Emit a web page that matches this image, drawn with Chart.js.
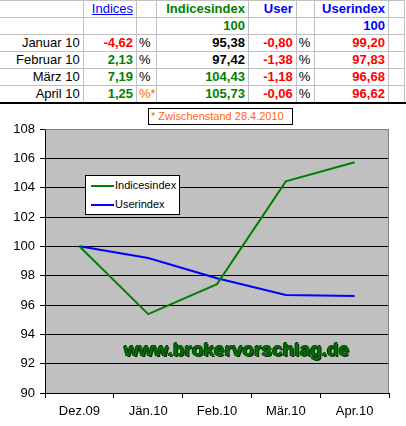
<!DOCTYPE html>
<html>
<head>
<meta charset="utf-8">
<script src="https://cdn.jsdelivr.net/npm/chart.js@4"></script>
<style>
  body { margin: 0; background: #fff; font-family: Arial, "Liberation Sans", sans-serif; }
  #page { position: relative; width: 406px; height: 426px; overflow: hidden; }
  #tbl { position: absolute; left: -1px; top: 0; border-collapse: collapse; table-layout: fixed; font-size: 13px; }
  #tbl td { border: 1px solid #c0c0c0; height: 16px; line-height: 16px; padding: 0 3px 0 0; text-align: right; white-space: nowrap; overflow: hidden; }
  #tbl td.pc { text-align: left; padding: 0 0 0 2px; }
  #tbl b { font-weight: bold; }
  #bottomline { position: absolute; left: 0; top: 102px; width: 406px; height: 2px; background: #000; }
  #chartbox { position: absolute; left: 0; top: 104px; width: 406px; height: 322px; }
  #note { position: absolute; left: 148px; top: 108px; width: 141px; height: 15px; border: 1px solid #000; background: #fff;
          color: #ff6600; font-size: 11px; line-height: 15px; padding-left: 2px; white-space: nowrap; }
  #legend { position: absolute; left: 85px; top: 175px; width: 93px; height: 38px; border: 1px solid #000; background: #fff; font-size: 11px; }
  #legend div { position: relative; height: 19px; line-height: 19px; padding-left: 29px; }
  #legend span { position: absolute; left: 5px; top: 9px; width: 23px; height: 2px; }
  #wm { position: absolute; left: 124px; top: 340px; font-size: 19px; line-height: 19px; font-weight: bold; color: #007000;
        text-shadow: 1px 1px 0 #002800, -1px 0 0 #003a00, 0 -1px 0 #003a00; white-space: nowrap; }
</style>
</head>
<body>
<div id="page">
  <table id="tbl"></table>
  <div id="bottomline"></div>
  <div id="chartbox"><canvas id="myChart" width="406" height="322"></canvas></div>
  <div id="note">* Zwischenstand 28.4.2010</div>
  <div id="legend"></div>
  <div id="wm">www.brokervorschlag.de</div>
</div>
<script>
// daten //
const months = ['Dez.09', 'Jän.10', 'Feb.10', 'Mär.10', 'Apr.10'];
const rowLabels = ['Januar 10', 'Februar 10', 'März 10', 'April 10'];
const indicesPct = [-4.62, 2.13, 7.19, 1.25];
const userPct = [-0.80, -1.38, -1.18, -0.06];
const indicesindex = [100, 95.38, 97.42, 104.43, 105.73];
const userindex = [100, 99.20, 97.83, 96.68, 96.62];
const yTicks = [90, 92, 94, 96, 98, 100, 102, 104, 106, 108];

const green = '#008000';
const blue = '#0000ff';
const red = '#ff0000';

// tabelle //
const fmt = v => v.toFixed(2).replace('.', ',');
const widths = [85, 54, 17, 93, 49, 19, 74, 17];
let html = '<colgroup>' + widths.map(w => '<col style="width:' + w + 'px">').join('') + '</colgroup>';
html += '<tr><td></td><td><u style="color:' + blue + '">Indices</u></td><td></td>' +
  '<td><b style="color:' + green + '">Indicesindex</b></td><td><b style="color:' + blue + '">User</b></td><td></td>' +
  '<td><b style="color:' + blue + '">Userindex</b></td><td></td></tr>';
html += '<tr><td></td><td></td><td></td><td><b style="color:' + green + '">' + indicesindex[0] + '</b></td><td></td><td></td>' +
  '<td><b style="color:' + blue + '">' + userindex[0] + '</b></td><td></td></tr>';
rowLabels.forEach((lab, i) => {
  const last = i === rowLabels.length - 1;
  const pctCell = last ? '<td class="pc" style="color:#ff6600">%*</td>' : '<td class="pc">%</td>';
  html += '<tr><td>' + lab + '</td>' +
    '<td><b style="color:' + (indicesPct[i] < 0 ? red : green) + '">' + fmt(indicesPct[i]) + '</b></td>' + pctCell +
    '<td><b style="color:' + (indicesindex[i + 1] < 100 ? '#000' : green) + '">' + fmt(indicesindex[i + 1]) + '</b></td>' +
    '<td><b style="color:' + red + '">' + fmt(userPct[i]) + '</b></td><td class="pc">%</td>' +
    '<td><b style="color:' + red + '">' + fmt(userindex[i + 1]) + '</b></td><td></td></tr>';
});
document.getElementById('tbl').innerHTML = html;

// grafico //
const plotBg = {
  id: 'plotBg',
  beforeDraw(chart) {
    const a = chart.chartArea, c = chart.ctx;
    c.save();
    c.fillStyle = '#c0c0c0';
    c.fillRect(a.left, a.top, a.right - a.left, a.bottom - a.top);
    c.restore();
  },
  beforeDatasetsDraw(chart) {
    const a = chart.chartArea, c = chart.ctx;
    c.save();
    c.strokeStyle = '#808080';
    c.lineWidth = 1;
    c.beginPath();
    c.moveTo(a.left, a.top + 0.5);
    c.lineTo(a.right - 0.5, a.top + 0.5);
    c.lineTo(a.right - 0.5, a.bottom);
    c.stroke();
    c.restore();
  }
};

const font = { family: 'Arial, "Liberation Sans", sans-serif', size: 13 };

const chart = new Chart(document.getElementById('myChart'), {
  type: 'line',
  data: {
    labels: months,
    datasets: [
      { label: 'Indicesindex', data: indicesindex, borderColor: green, backgroundColor: green, borderWidth: 2, pointRadius: 0, tension: 0 },
      { label: 'Userindex', data: userindex, borderColor: blue, backgroundColor: blue, borderWidth: 2, pointRadius: 0, tension: 0 }
    ]
  },
  options: {
    responsive: false,
    animation: false,
    devicePixelRatio: 1,
    layout: { padding: { top: 25, right: 17, left: 0, bottom: 0 } },
    plugins: { legend: { display: false }, tooltip: { enabled: false } },
    scales: {
      x: {
        offset: true,
        grid: { offset: true, drawOnChartArea: false, drawTicks: true, tickLength: 5, tickColor: '#000' },
        border: { color: '#000', width: 1 },
        ticks: { color: '#000', font: font, padding: 6, maxRotation: 0 },
        afterFit(s) { s.height = 33; }
      },
      y: {
        min: yTicks[0],
        max: yTicks[yTicks.length - 1],
        afterBuildTicks(s) { s.ticks = yTicks.map(v => ({ value: v })); },
        grid: {
          color: c => (c.tick && c.tick.value === 108) ? '#808080' : '#000',
          tickColor: '#000',
          tickLength: 5
        },
        border: { color: '#000', width: 1 },
        ticks: { color: '#000', font: font, padding: 5 },
        afterFit(s) { s.width = 45; }
      }
    }
  },
  plugins: [plotBg]
});

// legenda em html //
document.getElementById('legend').innerHTML = chart.data.datasets.map(d =>
  '<div><span style="background:' + d.borderColor + '"></span>' + d.label + '</div>').join('');
</script>
</body>
</html>
